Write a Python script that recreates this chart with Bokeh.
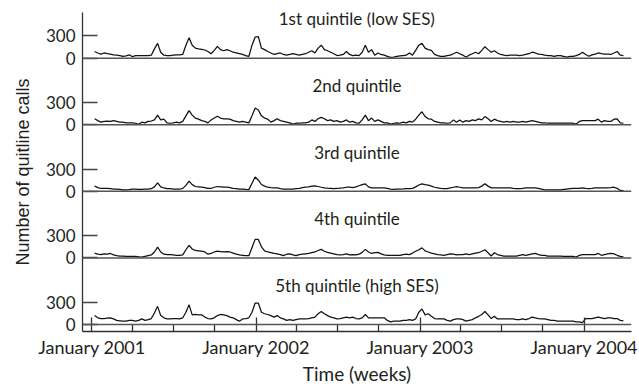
import pandas as pd
from bokeh.plotting import figure
from bokeh.models import ColumnDataSource, FixedTicker, DatetimeTickFormatter, Range1d, Span
from bokeh.transform import dodge
from bokeh.core.properties import value
from bokeh.embed import file_html
from bokeh.resources import INLINE

# ---- data (weekly quitline calls) ----
week_start = "2001-01-07"
n_weeks = 169

q1 = [90, 70, 55, 70, 60, 55, 45, 40, 35, 25,
      30, 45, 20, 35, 35, 35, 35, 35, 40, 125,
      200, 80, 40, 35, 35, 40, 45, 45, 50, 175,
      275, 175, 135, 125, 120, 110, 90, 60, 105, 160,
      115, 100, 115, 100, 80, 70, 60, 50, 35, 25,
      175, 285, 290, 135, 115, 90, 70, 50, 60, 70,
      50, 40, 50, 60, 50, 40, 50, 60, 80, 100,
      70, 135, 175, 115, 100, 80, 60, 35, 40, 50,
      90, 50, 35, 40, 35, 80, 175, 80, 115, 40,
      70, 50, 40, 25, 10, 15, 25, 30, 35, 40,
      70, 40, 105, 175, 200, 135, 115, 105, 50, 35,
      25, 25, 35, 40, 60, 80, 60, 40, 15, 40,
      60, 80, 60, 105, 155, 115, 80, 100, 70, 50,
      40, 35, 40, 40, 40, 35, 40, 50, 60, 80,
      70, 55, 50, 40, 35, 35, 25, 35, 35, 25,
      15, 25, 25, 35, 50, 80, 50, 25, 45, 55,
      70, 60, 55, 55, 50, 70, 90, 40, 35]

q2 = [80, 55, 35, 45, 50, 45, 55, 45, 35, 35,
      25, 25, 25, 20, 5, 35, 25, 45, 50, 65,
      130, 65, 75, 25, 20, 25, 35, 25, 45, 120,
      190, 130, 90, 75, 55, 45, 25, 65, 90, 115,
      90, 80, 80, 75, 55, 45, 35, 45, 35, 25,
      120, 225, 200, 120, 90, 75, 35, 55, 80, 55,
      45, 35, 25, 10, 20, 20, 25, 25, 35, 65,
      45, 80, 100, 80, 55, 65, 45, 55, 35, 45,
      65, 35, 45, 25, 20, 65, 130, 55, 90, 45,
      65, 45, 25, 25, 10, 20, 25, 20, 35, 25,
      45, 35, 75, 130, 175, 110, 80, 75, 45, 35,
      25, 25, 20, 25, 65, 35, 65, 35, 55, 45,
      65, 55, 80, 65, 110, 80, 45, 75, 55, 45,
      35, 45, 35, 45, 35, 35, 45, 35, 45, 55,
      45, 35, 25, 25, 20, 20, 20, 20, 20, 20,
      20, 20, 20, 10, 45, 55, 55, 55, 55, 55,
      75, 35, 55, 45, 45, 75, 80, 25, 20]

q3 = [70, 50, 38, 40, 40, 35, 30, 28, 25, 20,
      18, 22, 28, 30, 25, 25, 28, 30, 35, 60,
      115, 60, 45, 35, 35, 30, 28, 28, 40, 80,
      138, 90, 65, 60, 55, 50, 40, 38, 55, 65,
      60, 55, 55, 50, 40, 35, 30, 28, 25, 23,
      110, 193, 150, 92, 70, 55, 50, 46, 45, 35,
      30, 28, 28, 30, 35, 40, 50, 55, 60, 70,
      74, 65, 55, 46, 42, 40, 37, 38, 42, 46,
      55, 55, 50, 60, 75, 90, 101, 60, 46, 46,
      46, 46, 46, 40, 30, 25, 28, 30, 32, 35,
      37, 40, 60, 85, 101, 90, 83, 70, 55, 45,
      40, 37, 37, 45, 55, 64, 55, 46, 46, 46,
      46, 46, 50, 70, 101, 70, 46, 46, 46, 46,
      46, 46, 46, 40, 37, 37, 40, 46, 46, 46,
      46, 40, 30, 20, 18, 18, 18, 18, 20, 25,
      30, 35, 40, 40, 40, 46, 40, 37, 40, 46,
      46, 46, 46, 46, 50, 55, 40, 12, 10]

q4 = [65, 50, 45, 55, 50, 60, 40, 30, 25, 25,
      20, 20, 20, 20, 15, 10, 20, 30, 40, 80,
      145, 80, 50, 45, 45, 40, 35, 35, 40, 110,
      170, 120, 100, 95, 90, 80, 50, 60, 80, 90,
      85, 80, 85, 80, 65, 50, 40, 35, 30, 30,
      140, 250, 250, 150, 95, 80, 70, 60, 55, 45,
      30, 50, 55, 40, 30, 45, 50, 55, 60, 70,
      80, 100, 115, 90, 75, 65, 55, 45, 40, 45,
      55, 40, 45, 40, 50, 75, 115, 80, 60, 70,
      75, 55, 40, 35, 35, 35, 35, 35, 45, 50,
      45, 65, 90, 110, 135, 95, 80, 65, 55, 45,
      40, 35, 45, 55, 50, 40, 45, 45, 55, 45,
      55, 65, 70, 90, 110, 70, 25, 70, 45, 35,
      25, 25, 25, 25, 25, 35, 45, 35, 45, 55,
      60, 45, 35, 35, 25, 25, 25, 25, 25, 20,
      20, 20, 20, 10, 35, 45, 45, 45, 45, 45,
      60, 35, 45, 55, 60, 55, 35, 20, 15]

q5 = [120, 90, 80, 80, 85, 90, 75, 55, 50, 45,
      45, 55, 55, 45, 55, 75, 55, 65, 80, 155,
      245, 120, 90, 75, 75, 80, 80, 75, 90, 165,
      265, 130, 135, 130, 130, 100, 80, 75, 90, 120,
      135, 130, 120, 100, 90, 65, 45, 75, 80, 90,
      165, 290, 290, 165, 145, 135, 120, 100, 120, 90,
      75, 55, 65, 55, 65, 75, 75, 75, 80, 90,
      100, 145, 175, 145, 120, 100, 90, 75, 80, 90,
      100, 90, 100, 80, 75, 90, 135, 90, 90, 90,
      90, 90, 90, 55, 35, 45, 45, 45, 55, 55,
      65, 55, 75, 165, 210, 130, 145, 110, 80, 75,
      75, 75, 55, 45, 65, 75, 75, 65, 45, 55,
      65, 90, 110, 135, 175, 130, 80, 110, 75, 75,
      75, 75, 75, 75, 65, 65, 75, 65, 80, 100,
      90, 80, 75, 75, 65, 55, 55, 45, 45, 45,
      45, 45, 45, 35, 35, 25, 80, 80, 80, 90,
      100, 90, 80, 90, 90, 80, 80, 55, 50]

series = ["q1", "q2", "q3", "q4", "q5"]
panel_titles = ["1st quintile (low SES)", "2nd quintile", "3rd quintile",
                "4th quintile", "5th quintile (high SES)"]
tick_years = [2001, 2002, 2003, 2004]
minor_months = [4, 7, 10]
y_tick_values = [0, 300]

# ---- layout constants ----
panel_step = 900
title_gap = 530
offsets = [panel_step * (len(series) - 1 - i) for i in range(len(series))]
x_start = pd.Timestamp("2000-12-11")
x_end = pd.Timestamp("2004-04-15")

dates = pd.date_range(week_start, periods=n_weeks, freq="7D")
src = ColumnDataSource(dict(date=dates, q1=q1, q2=q2, q3=q3, q4=q4, q5=q5))

FONT = "Lato"
TXT = "#231f20"

p = figure(width=639, height=390, x_axis_type="datetime",
           output_backend="svg", toolbar_location=None,
           x_range=Range1d(x_start, x_end), y_range=Range1d(-95, 4217),
           min_border_left=82, min_border_right=8, min_border_top=12,
           min_border_bottom=59)
p.outline_line_color = None
p.grid.visible = False
p.background_fill_color = "white"
p.border_fill_color = "white"

# baselines of each panel
for off in offsets:
    p.add_layout(Span(location=off, dimension="width", line_color="#555555",
                      line_width=1.5))

for name, off in zip(series, offsets):
    p.line(x="date", y=dodge(name, off), source=src, line_color="#111111",
           line_width=1.25)

# panel titles
mid = x_start + (x_end - x_start) / 2
tsrc = ColumnDataSource(dict(x=[mid] * len(series),
                             y=[o + title_gap for o in offsets],
                             text=panel_titles))
p.text(x="x", y="y", text="text", source=tsrc, text_align="center",
       text_baseline="alphabetic", text_font=value(FONT),
       text_font_size="17px", text_color=TXT)

# y axis
yt = [o + t for o in offsets for t in y_tick_values]
p.yaxis.ticker = FixedTicker(ticks=yt, minor_ticks=[])
p.yaxis.major_label_overrides = {o + t: str(t) for o in offsets for t in y_tick_values}
p.yaxis.major_tick_in = 15
p.yaxis.major_tick_out = 0
p.yaxis.minor_tick_line_color = None
p.yaxis.major_tick_line_color = "#444444"
p.yaxis.major_tick_line_width = 1.3
p.yaxis.axis_line_color = "#333333"
p.yaxis.axis_line_width = 1.3
p.yaxis.major_label_standoff = 7
p.yaxis.major_label_text_font = FONT
p.yaxis.major_label_text_font_size = "17px"
p.yaxis.major_label_text_color = TXT
p.yaxis.axis_label = "Number of quitline calls"
p.yaxis.axis_label_text_font = "Liberation Sans"
p.yaxis.axis_label_text_font_style = "normal"
p.yaxis.axis_label_text_font_size = "18px"
p.yaxis.axis_label_text_color = TXT
p.yaxis.axis_label_standoff = 10

# x axis
def ms(ts):
    return pd.Timestamp(ts).value / 1e6

major = [ms(f"{y}-01-01") for y in tick_years]
minor = [ms(f"{y}-{m:02d}-01") for y in tick_years[:-1] for m in minor_months]
p.xaxis.ticker = FixedTicker(ticks=major, minor_ticks=minor)
fmt = "%B %Y"
p.xaxis.formatter = DatetimeTickFormatter(years=fmt, months=fmt, days=fmt,
                                          hours=fmt, minutes=fmt)
p.xaxis.major_tick_in = 14
p.xaxis.major_tick_out = 0
p.xaxis.minor_tick_in = 7
p.xaxis.minor_tick_out = 0
p.xaxis.major_tick_line_color = "#333333"
p.xaxis.minor_tick_line_color = "#333333"
p.xaxis.major_tick_line_width = 1.3
p.xaxis.minor_tick_line_width = 1.3
p.xaxis.axis_line_color = "#333333"
p.xaxis.axis_line_width = 1.3
p.xaxis.major_label_standoff = 4
p.xaxis.major_label_text_font = FONT
p.xaxis.major_label_text_font_size = "18px"
p.xaxis.major_label_text_color = TXT
p.xaxis.axis_label = "Time (weeks)"
p.xaxis.axis_label_text_font = FONT
p.xaxis.axis_label_text_font_style = "normal"
p.xaxis.axis_label_text_font_size = "19px"
p.xaxis.axis_label_text_color = TXT
p.xaxis.axis_label_standoff = 1

open("out.html", "w").write(file_html(p, INLINE))
